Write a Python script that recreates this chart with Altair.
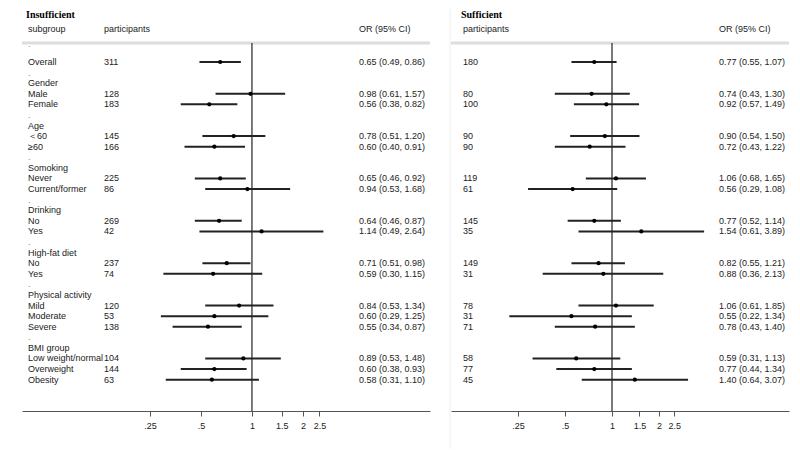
import altair as alt
import pandas as pd

# ---------------- data ----------------
groups = ["Gender", "Age", "Somoking", "Drinking", "High-fat diet", "Physical activity", "BMI group"]
group_rows = [2, 6, 10, 14, 18, 22, 27]
dot_rows = [-1.7, 1, 5, 9, 13, 17, 21, 26]
subgroups = ["Overall", "Male", "Female", "＜60", "≥60", "Never", "Current/former",
             "No", "Yes", "No", "Yes", "Mild", "Moderate", "Severe",
             "Low weight/normal", "Overweight", "Obesity"]
sub_rows = [0, 3, 4, 7, 8, 11, 12, 15, 16, 19, 20, 23, 24, 25, 28, 29, 30]

ins_n = [311, 128, 183, 145, 166, 225, 86, 269, 42, 237, 74, 120, 53, 138, 104, 144, 63]
ins_or = [0.65, 0.98, 0.56, 0.78, 0.60, 0.65, 0.94, 0.64, 1.14, 0.71, 0.59, 0.84, 0.60, 0.55, 0.89, 0.60, 0.58]
ins_lo = [0.49, 0.61, 0.38, 0.51, 0.40, 0.46, 0.53, 0.46, 0.49, 0.51, 0.30, 0.53, 0.29, 0.34, 0.53, 0.38, 0.31]
ins_hi = [0.86, 1.57, 0.82, 1.20, 0.91, 0.92, 1.68, 0.87, 2.64, 0.98, 1.15, 1.34, 1.25, 0.87, 1.48, 0.93, 1.10]

suf_n = [180, 80, 100, 90, 90, 119, 61, 145, 35, 149, 31, 78, 31, 71, 58, 77, 45]
suf_or = [0.77, 0.74, 0.92, 0.90, 0.72, 1.06, 0.56, 0.77, 1.54, 0.82, 0.88, 1.06, 0.55, 0.78, 0.59, 0.77, 1.40]
suf_lo = [0.55, 0.43, 0.57, 0.54, 0.43, 0.68, 0.29, 0.52, 0.61, 0.55, 0.36, 0.61, 0.22, 0.43, 0.31, 0.44, 0.64]
suf_hi = [1.07, 1.30, 1.49, 1.50, 1.22, 1.65, 1.08, 1.14, 3.89, 1.21, 2.13, 1.85, 1.34, 1.40, 1.13, 1.34, 3.07]

tick_values = [0.25, 0.5, 1, 1.5, 2, 2.5]

FONT = "Liberation Sans"
TXT = "#222222"
H = 402


def panel(title, n, orv, lo, hi, width, xdomain, n_x, or_x, title_x, left_panel):
    df = pd.DataFrame({
        "row": sub_rows, "sub": subgroups, "n": [str(v) for v in n],
        "or": orv, "lo": lo, "hi": hi,
        "ortxt": [f"{a:.2f} ({b:.2f}, {c:.2f})" for a, b, c in zip(orv, lo, hi)],
    })
    xs = alt.Scale(type="log", domain=xdomain, nice=False, zero=False)
    ys = alt.Scale(domain=[-5.005, 32.96], reverse=True, nice=False, zero=False)
    base = alt.Chart(df)
    one = pd.DataFrame({"v": [1]})

    axis = alt.Axis(values=tick_values, grid=False, domainColor="#555555", tickColor="#555555",
                    tickSize=5, labelFontSize=9, labelFont=FONT, labelColor=TXT, labelPadding=5,
                    labelOverlap=False, labelFlush=False,
                    labelExpr="datum.value < 1 ? replace(format(datum.value, '.2~f'), '0.', '.') : format(datum.value, '~g')")

    ci = base.mark_rule(color="#222222", strokeWidth=2).encode(
        x=alt.X("lo:Q", scale=xs, axis=axis, title=None),
        x2="hi:Q",
        y=alt.Y("row:Q", scale=ys, axis=None),
    )
    pts = base.mark_point(filled=True, shape="circle", size=18, color="#000000", opacity=1).encode(
        x="or:Q", y="row:Q")
    ref = alt.Chart(one).mark_rule(color="#222222", strokeWidth=1.2).encode(
        x="v:Q", y=alt.value(34), y2=alt.value(H))
    topline = alt.Chart(one).mark_rule(color="#dddddd", strokeWidth=3).encode(
        x=alt.value(0), x2=alt.value(width), y=alt.value(34))

    txt = dict(align="left", baseline="middle", font=FONT, fontSize=9, color=TXT)
    ntext = base.mark_text(**txt).encode(x=alt.value(n_x), y="row:Q", text="n:N")
    ortext = base.mark_text(**txt).encode(x=alt.value(or_x), y="row:Q", text="ortxt:N")

    ttl = alt.Chart(pd.DataFrame({"t": [title]})).mark_text(
        align="left", baseline="middle", font="Liberation Serif", fontSize=10,
        fontWeight="bold", color="#000000").encode(x=alt.value(title_x), y=alt.value(6), text="t:N")
    hdr_n = alt.Chart(pd.DataFrame({"t": ["participants"]})).mark_text(**txt).encode(
        x=alt.value(n_x), y=alt.value(20), text="t:N")
    hdr_or = alt.Chart(pd.DataFrame({"t": ["OR (95% CI)"]})).mark_text(**txt).encode(
        x=alt.value(or_x), y=alt.value(20), text="t:N")

    layers = [topline, ref, ci, pts, ntext, ortext, ttl, hdr_n, hdr_or]

    if left_panel:
        sdf = pd.DataFrame({"row": sub_rows + group_rows, "t": subgroups + groups})
        stext = alt.Chart(sdf).mark_text(**txt).encode(x=alt.value(6), y="row:Q", text="t:N")
        ddf = pd.DataFrame({"row": dot_rows, "t": ["."] * len(dot_rows)})
        dtext = alt.Chart(ddf).mark_text(align="left", baseline="middle", font=FONT,
                                         fontSize=9, color="#888888").encode(
            x=alt.value(6), y="row:Q", text="t:N")
        hdr_s = alt.Chart(pd.DataFrame({"t": ["subgroup"]})).mark_text(**txt).encode(
            x=alt.value(6), y=alt.value(20), text="t:N")
        layers += [stext, dtext, hdr_s]
    else:
        sep = alt.Chart(one).mark_rule(color="#eeeeee", strokeWidth=1).encode(
            x=alt.value(-1), y=alt.value(0), y2=alt.value(440))
        layers = [sep] + layers

    return alt.layer(*layers).properties(width=width, height=H)


left = panel("Insufficient", ins_n, ins_or, ins_lo, ins_hi, 408,
             [0.04395, 11.24], 82, 337, 4, True)
right = panel("Sufficient", suf_n, suf_or, suf_lo, suf_hi, 338,
              [0.0931, 13.6], 12, 268, 10, False)

chart = alt.hconcat(left, right, spacing=17).properties(
    padding={"left": 12, "top": 0, "right": 0, "bottom": 0},
    background="white",
).configure_view(strokeWidth=0)

chart.save("out.html", embed_options={"renderer": "svg", "actions": False})
